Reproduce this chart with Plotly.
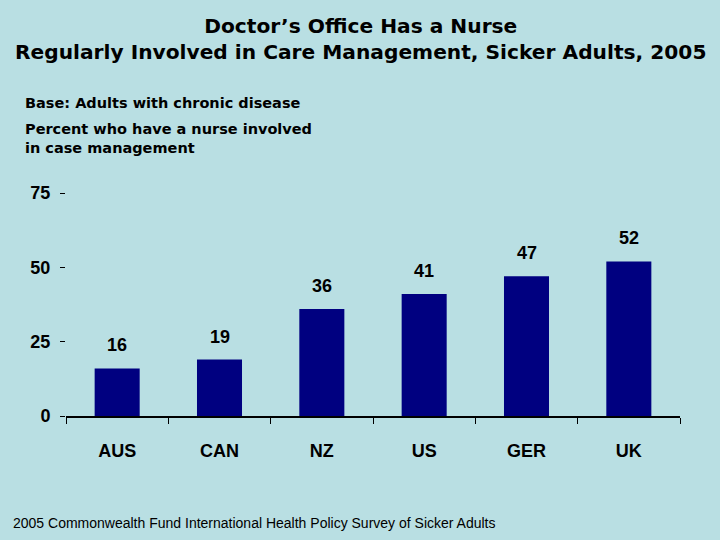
import plotly.graph_objects as go

countries = ["AUS", "CAN", "NZ", "US", "GER", "UK"]
percent_nurse = [16, 19, 36, 41, 47, 52]
y_ticks = [0, 25, 50, 75]

title_text = "Doctor’s Office Has a Nurse<br>Regularly Involved in Care Management, Sicker Adults, 2005"
base_text = "Base: Adults with chronic disease"
measure_text = "Percent who have a nurse involved<br>in case management"
source_text = "2005 Commonwealth Fund International Health Policy Survey of Sicker Adults"

bg = "#b9dfe3"
bar_color = "#000080"
font = "Liberation Sans, Arial, sans-serif"
wide = "DejaVu Sans, Verdana, sans-serif"

W, H = 720, 540
ML, MR, MT, MB = 66, 40, 193, 124

fig = go.Figure()
fig.add_trace(
    go.Bar(
        x=countries,
        y=percent_nurse,
        marker=dict(color=bar_color, line=dict(width=0)),
        showlegend=False,
        hoverinfo="x+y",
    )
)

# value labels sit a bit above each bar
for c, v in zip(countries, percent_nurse):
    fig.add_annotation(
        x=c, y=v, text=str(v), showarrow=False,
        yanchor="middle", yshift=23,
        font=dict(family=font, size=18, color="black", weight="bold"),
    )


def px_x(px):
    return (px - ML) / (W - ML - MR)


def px_y(py):
    return (H - MB - py) / (H - MT - MB)


def note(text, x, y, size, family, weight="bold", xanchor="left"):
    fig.add_annotation(
        x=px_x(x), y=px_y(y), xref="paper", yref="paper",
        xanchor=xanchor, yanchor="middle", showarrow=False,
        align="center" if xanchor == "center" else "left",
        text=text, font=dict(family=family, size=size, color="black", weight=weight),
    )


note(title_text, 360, 39, 20.2, wide, xanchor="center")
note(base_text, 23, 102.5, 14.5, wide)
note(measure_text, 23, 138.5, 14.5, wide)
note(source_text, 11, 523, 14, font, weight="normal")

fig.update_layout(
    width=W,
    height=H,
    paper_bgcolor=bg,
    plot_bgcolor=bg,
    margin=dict(l=ML, r=MR, t=MT, b=MB),
    bargap=0.56,
    font=dict(family=font, color="black"),
    xaxis=dict(
        showline=True, linecolor="black", linewidth=1.5,
        ticks="outside", tickson="boundaries", ticklen=6, tickcolor="black",
        tickfont=dict(size=18, family=font, weight="bold"),
        ticklabelstandoff=18,
        showgrid=False, fixedrange=True,
    ),
    yaxis=dict(
        range=[0, 75], tickvals=y_ticks,
        ticks="outside", ticklen=5, tickcolor="black",
        tickfont=dict(size=18, family=font, weight="bold"),
        ticklabelstandoff=6,
        showline=False, showgrid=False, zeroline=False, fixedrange=True,
    ),
)

fig.write_html(
    "out.html",
    config={"displayModeBar": False},
    post_script="document.body.style.margin='0';document.body.style.background='%s';" % bg,
)
